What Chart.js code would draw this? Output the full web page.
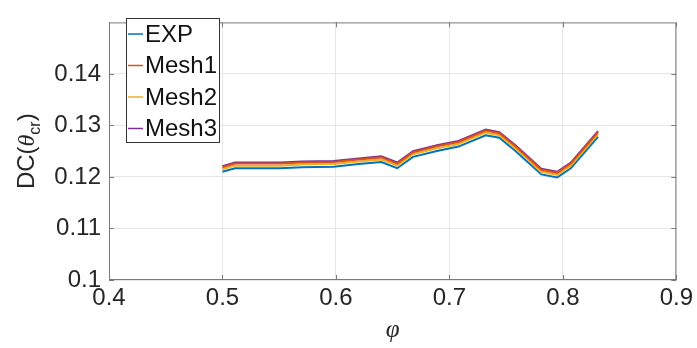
<!DOCTYPE html>
<html lang="en">

<head>
    <meta charset="UTF-8" />
    <title>DC vs phi</title>
    <style>
        body {
            margin: 0;
            background: #ffffff;
        }

        canvas {
            display: block;
        }
    </style>
</head>

<body>
    <canvas id="dcChart" width="697" height="348"></canvas>

    <script src="https://cdn.jsdelivr.net/npm/chart.js"></script>
    <script>
        // Data sets
        const phi = [0.500, 0.511, 0.530, 0.551, 0.570, 0.598, 0.620, 0.640, 0.654, 0.668,
            0.690, 0.708, 0.732, 0.744, 0.758, 0.781, 0.795, 0.807, 0.831];
        const dcExp = [0.1210, 0.1217, 0.1217, 0.1217, 0.1219, 0.1220, 0.1225, 0.1229, 0.1217, 0.1239,
            0.1251, 0.1259, 0.1281, 0.1276, 0.1251, 0.1205, 0.1199, 0.1217, 0.1278];
        const dcMesh1 = [0.1219, 0.1226, 0.1226, 0.1226, 0.1228, 0.1229, 0.1234, 0.1238, 0.1226, 0.1248,
            0.1260, 0.1268, 0.1290, 0.1285, 0.1260, 0.1214, 0.1208, 0.1226, 0.1287];
        const dcMesh2 = [0.1215, 0.1222, 0.1222, 0.1222, 0.1224, 0.1225, 0.1230, 0.1234, 0.1222, 0.1244,
            0.1256, 0.1264, 0.1286, 0.1281, 0.1256, 0.1210, 0.1204, 0.1222, 0.1283];
        const dcMesh3 = [0.1221, 0.1228, 0.1228, 0.1228, 0.1230, 0.1231, 0.1236, 0.1240, 0.1228, 0.1250,
            0.1262, 0.1270, 0.1292, 0.1287, 0.1262, 0.1216, 0.1210, 0.1228, 0.1289];

        const seriesNames = ['EXP', 'Mesh1', 'Mesh2', 'Mesh3'];
        const xTicks = [0.4, 0.5, 0.6, 0.7, 0.8, 0.9];
        const yTicks = [0.1, 0.11, 0.12, 0.13, 0.14];

        const axisColor = '#7a7a7a';
        const textColor = '#262626';
        const font = 'Liberation Sans, Arial, sans-serif';

        const toPoints = ys => ys.map((y, i) => ({ x: phi[i], y: y }));

        function makeSet(label, ys, color, order) {
            return {
                label: label,
                data: toPoints(ys),
                borderColor: color,
                backgroundColor: color,
                borderWidth: 2,
                pointRadius: 0,
                tension: 0,
                order: order
            };
        }

        // Frame, inward ticks, axis titles and legend
        const decorations = {
            id: 'decorations',
            afterDatasetsDraw(chart) {
                const ctx = chart.ctx;
                const a = chart.chartArea;
                const xs = chart.scales.x;
                const ys = chart.scales.y;
                ctx.save();

                // box
                ctx.strokeStyle = axisColor;
                ctx.lineWidth = 1;
                ctx.strokeRect(a.left + 0.5, a.top + 0.5, a.right - a.left - 1, a.bottom - a.top - 1);

                // inward ticks on all four sides
                ctx.beginPath();
                xTicks.forEach(v => {
                    const px = Math.round(xs.getPixelForValue(v)) + 0.5;
                    ctx.moveTo(px, a.bottom); ctx.lineTo(px, a.bottom - 5);
                    ctx.moveTo(px, a.top); ctx.lineTo(px, a.top + 5);
                });
                yTicks.forEach(v => {
                    const py = Math.round(ys.getPixelForValue(v)) + 0.5;
                    ctx.moveTo(a.left, py); ctx.lineTo(a.left + 5, py);
                    ctx.moveTo(a.right, py); ctx.lineTo(a.right - 5, py);
                });
                ctx.stroke();

                // x title
                ctx.fillStyle = textColor;
                ctx.textAlign = 'center';
                ctx.textBaseline = 'middle';
                ctx.font = 'italic 25px "Liberation Serif", serif';
                ctx.fillText('φ', (a.left + a.right) / 2, 330);

                // y title: DC(θ_cr)
                ctx.save();
                ctx.translate(34, (a.top + a.bottom) / 2);
                ctx.rotate(-Math.PI / 2);
                ctx.textBaseline = 'alphabetic';
                ctx.textAlign = 'left';
                const parts = [
                    { t: 'DC(', f: '24px ' + font, dy: 0 },
                    { t: 'θ', f: 'italic 24px "Liberation Serif", serif', dy: 0 },
                    { t: 'cr', f: '16px ' + font, dy: 6 },
                    { t: ')', f: '24px ' + font, dy: 0 }
                ];
                let total = 0;
                parts.forEach(p => { ctx.font = p.f; total += ctx.measureText(p.t).width; });
                let cx = -total / 2;
                parts.forEach(p => {
                    ctx.font = p.f;
                    ctx.fillText(p.t, cx, p.dy);
                    cx += ctx.measureText(p.t).width;
                });
                ctx.restore();

                // legend
                const lx = 126, ly = 18, lw = 93, lh = 124;
                ctx.fillStyle = '#ffffff';
                ctx.fillRect(lx, ly, lw, lh);
                ctx.strokeStyle = '#333333';
                ctx.lineWidth = 1;
                ctx.strokeRect(lx + 0.5, ly + 0.5, lw, lh);
                ctx.font = '24px ' + font;
                ctx.textAlign = 'left';
                ctx.textBaseline = 'middle';
                chart.data.datasets.forEach((ds, i) => {
                    const ry = 34 + i * 31.5;
                    ctx.strokeStyle = ds.borderColor;
                    ctx.lineWidth = 1.5;
                    ctx.beginPath();
                    ctx.moveTo(128, ry);
                    ctx.lineTo(143, ry);
                    ctx.stroke();
                    ctx.fillStyle = '#111111';
                    ctx.fillText(ds.label, 145, ry + 1);
                });
                ctx.restore();
            }
        };

        const dcCtx = document.getElementById('dcChart').getContext('2d');
        const dcChart = new Chart(dcCtx, {
            type: 'line',
            data: {
                datasets: [
                    makeSet(seriesNames[0], dcExp, '#0072BD', 4),
                    makeSet(seriesNames[1], dcMesh1, '#D95319', 1),
                    makeSet(seriesNames[2], dcMesh2, '#EDB120', 3),
                    makeSet(seriesNames[3], dcMesh3, '#7E2F8E', 2)
                ]
            },
            options: {
                responsive: false,
                animation: false,
                layout: { padding: { top: 11, right: 17, left: 0, bottom: 0 } },
                scales: {
                    x: {
                        type: 'linear',
                        min: 0.4,
                        max: 0.9,
                        afterBuildTicks: s => { s.ticks = xTicks.map(v => ({ value: v })); },
                        afterFit: s => { s.height = 68; },
                        grid: { color: '#e6e6e6', drawTicks: false },
                        border: { display: false },
                        ticks: {
                            color: textColor,
                            font: { family: font, size: 24 },
                            padding: 4,
                            maxRotation: 0,
                            autoSkip: false,
                            callback: v => String(+v.toFixed(1))
                        }
                    },
                    y: {
                        min: 0.1,
                        max: 0.15,
                        afterBuildTicks: s => { s.ticks = yTicks.map(v => ({ value: v })); },
                        afterFit: s => { s.width = 109; },
                        grid: { color: '#e6e6e6', drawTicks: false },
                        border: { display: false },
                        ticks: {
                            color: textColor,
                            font: { family: font, size: 24 },
                            padding: 8,
                            autoSkip: false,
                            callback: v => String(+v.toFixed(2))
                        }
                    }
                },
                plugins: {
                    legend: { display: false },
                    tooltip: { enabled: false }
                }
            },
            plugins: [decorations]
        });
    </script>
</body>

</html>
